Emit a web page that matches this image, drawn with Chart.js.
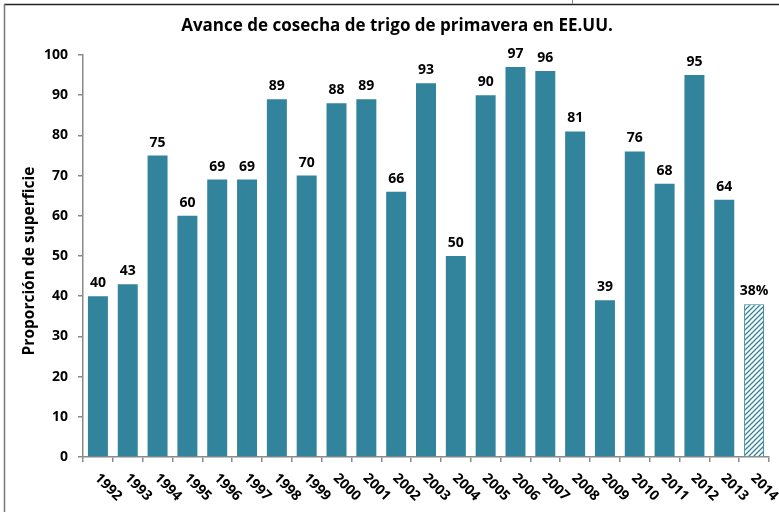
<!DOCTYPE html>
<html><head><meta charset="utf-8">
<script src="https://cdn.jsdelivr.net/npm/chart.js@4"></script>
<style>html,body{margin:0;padding:0;background:#fff}#wrap{width:779px;height:512px;position:relative;overflow:hidden}</style>
</head><body><div id="wrap"><canvas id="c" width="779" height="512"></canvas></div>
<script>
const categories = ['1992','1993','1994','1995','1996','1997','1998','1999','2000','2001','2002','2003','2004','2005','2006','2007','2008','2009','2010','2011','2012','2013','2014'];
const values = [40,43,75,60,69,69,89,70,88,89,66,93,50,90,97,96,81,39,76,68,95,64,38];
const valueLabels = ['40','43','75','60','69','69','89','70','88','89','66','93','50','90','97','96','81','39','76','68','95','64','38%'];
const yTickValues = [0,10,20,30,40,50,60,70,80,90,100];
const titleText = 'Avance de cosecha de trigo de primavera en EE.UU.';
const yAxisTitle = 'Proporción de superficie';

const TEAL = '#31849B';
const FONT = '"Open Sans", Lato, sans-serif';

function makeHatch(){
  const p = document.createElement('canvas');
  p.width = 5; p.height = 5;
  const g = p.getContext('2d');
  g.fillStyle = '#fff'; g.fillRect(0,0,5,5);
  g.strokeStyle = TEAL; g.lineWidth = 1.3;
  g.beginPath();
  g.moveTo(-1,6); g.lineTo(6,-1);
  g.moveTo(-1,1); g.lineTo(1,-1);
  g.moveTo(4,6); g.lineTo(6,4);
  g.stroke();
  return document.getElementById('c').getContext('2d').createPattern(p,'repeat');
}
const hatch = makeHatch();
const lastIdx = values.length - 1;
const bgColors = values.map((v,i)=> i===lastIdx ? hatch : TEAL);
const bdWidths = values.map((v,i)=> i===lastIdx ? 1 : 0);

const framePlugin = {
  id:'frame',
  beforeDraw(chart){
    const ctx = chart.ctx;
    ctx.save();
    ctx.fillStyle='#fff'; ctx.fillRect(0,0,chart.width,chart.height);
    ctx.strokeStyle='#222'; ctx.lineWidth=1.5;
    ctx.beginPath(); ctx.moveTo(4,4.5); ctx.lineTo(779,4.5); ctx.stroke();
    ctx.strokeStyle='#777'; ctx.lineWidth=1.5;
    ctx.beginPath(); ctx.moveTo(4.5,4); ctx.lineTo(4.5,512); ctx.stroke();
    ctx.strokeStyle='#888'; ctx.lineWidth=1;
    ctx.beginPath(); ctx.moveTo(572.5,0); ctx.lineTo(572.5,4); ctx.stroke();
    // title
    ctx.fillStyle='#000';
    ctx.font = 'bold 17px ' + FONT;
    ctx.textAlign='center'; ctx.textBaseline='alphabetic';
    ctx.fillText(titleText, 397, 31);
    // y axis title
    ctx.save();
    ctx.translate(30, 261);
    ctx.rotate(-Math.PI/2);
    ctx.font = 'bold 15.5px ' + FONT;
    ctx.textAlign='center'; ctx.textBaseline='middle';
    ctx.fillText(yAxisTitle, 0, 0);
    ctx.restore();
    ctx.restore();
  }
};

const labelsPlugin = {
  id:'lbls',
  afterDatasetsDraw(chart){
    const ctx = chart.ctx;
    const meta = chart.getDatasetMeta(0);
    ctx.save();
    ctx.fillStyle='#000';
    ctx.font='bold 14px ' + FONT;
    ctx.textAlign='center'; ctx.textBaseline='alphabetic';
    meta.data.forEach((bar,i)=>{
      ctx.fillText(valueLabels[i], bar.x, bar.y - 9);
    });
    const xs = chart.scales.x;
    categories.forEach((c,i)=>{
      const x = xs.getPixelForValue(i);
      ctx.save();
      ctx.translate(x - 1, xs.top + 19);
      ctx.rotate(Math.PI/4);
      ctx.textAlign='left'; ctx.textBaseline='middle';
      ctx.fillText(c, 0, 0);
      ctx.restore();
    });
    ctx.restore();
  }
};

new Chart(document.getElementById('c'), {
  type:'bar',
  data:{ labels: categories, datasets:[{ data: values, backgroundColor: bgColors, borderColor: TEAL, borderWidth: bdWidths, categoryPercentage:1, barPercentage:0.67 }]},
  options:{
    responsive:false, animation:false, devicePixelRatio:1,
    layout:{ padding:{ top:55, right:10, left:0, bottom:0 } },
    plugins:{ legend:{display:false}, title:{display:false}, tooltip:{enabled:false} },
    scales:{
      x:{
        grid:{ display:true, drawOnChartArea:false, drawTicks:true, tickLength:5, color:'#8a8a8a', lineWidth:1.5, offset:true },
        border:{ display:true, color:'#8a8a8a', width:1.5 },
        ticks:{ display:false },
        afterFit(s){ s.height = 55; }
      },
      y:{
        min:0, max:100,
        afterBuildTicks(s){ s.ticks = yTickValues.map(v=>({value:v})); },
        grid:{ display:true, drawOnChartArea:false, drawTicks:true, tickLength:5, color:'#8a8a8a', lineWidth:1.5 },
        border:{ display:true, color:'#8a8a8a', width:1.5 },
        ticks:{ color:'#000', font:{ family:FONT, size:14, weight:'bold' }, padding:10 },
        title:{ display:false },
        afterFit(s){ s.width = 83; }
      }
    }
  },
  plugins:[framePlugin, labelsPlugin]
});
</script>
</body></html>
